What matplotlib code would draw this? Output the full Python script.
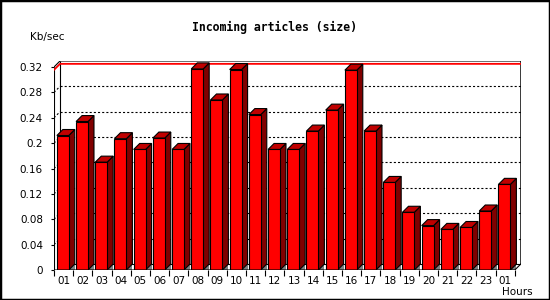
import matplotlib
matplotlib.use('Agg')
import matplotlib.pyplot as plt
from matplotlib.patches import Polygon, Rectangle

plt.rcParams['lines.scale_dashes'] = False

# hourly incoming article volume, Kb/sec
hours = ['01', '02', '03', '04', '05', '06', '07', '08', '09', '10', '11', '12',
         '13', '14', '15', '16', '17', '18', '19', '20', '21', '22', '23', '01']
kbsec = [0.212, 0.234, 0.170, 0.207, 0.190, 0.208, 0.190, 0.317, 0.268, 0.316, 0.245, 0.190,
         0.190, 0.219, 0.252, 0.315, 0.219, 0.138, 0.091, 0.070, 0.064, 0.067, 0.093, 0.135]
yticks = [0, 0.04, 0.08, 0.12, 0.16, 0.2, 0.24, 0.28, 0.32]
ymax = 0.32

n = len(kbsec)
dx = 6 / 19.2          # depth offset, in slots
dy = 6 / 634.0         # depth offset, in Kb/sec
off, w = 0.15, 0.62    # bar offset and front width inside a slot

fig = plt.figure(figsize=(5.5, 3), dpi=100)
W, H = 550, 300
ax = fig.add_axes([54 / W, 30 / H, (24 * 19.2 + 6) / W, 209 / H])
ax.set_xlim(0, n + dx)
ax.set_ylim(0, ymax + dy)
for s in ax.spines.values():
    s.set_visible(False)

lw = 0.8
# back plane grid
for v in yticks[1:-1]:
    ax.plot([dx, n + dx], [v + dy, v + dy], color='black', lw=lw, dashes=(1.5, 1.5), zorder=1)
    ax.plot([0, dx], [v, v + dy], color='black', lw=lw, dashes=(1.5, 1.5), zorder=1)

# frame
k = dict(color='black', lw=lw, zorder=2, solid_capstyle='butt')
ax.plot([0, 0], [0, ymax], **k)
ax.plot([0, dx, n + dx, n + dx], [ymax, ymax + dy, ymax + dy, dy], **k)
ax.plot([dx, dx], [dy, ymax + dy], **k)
ax.plot([dx, n + dx], [dy, dy], **k)
ax.plot([0, n, n + dx], [0, 0, dy], color='black', lw=lw, zorder=6)

# max line
m = max(kbsec)
ax.plot([0, dx, n + dx], [m - 0.0015, m + dy - 0.0015, m + dy - 0.0015], color='red', lw=1.3, zorder=2)

# bars
for i, v in enumerate(kbsec):
    x0 = i + off
    x1 = x0 + w
    ax.add_patch(Polygon([(x1, 0), (x1 + dx, 0), (x1 + dx, dy)], closed=True,
                         facecolor='#808080', edgecolor='none', zorder=3))
    ax.add_patch(Polygon([(x1, 0), (x1 + dx, dy), (x1 + dx, v + dy), (x1, v)], closed=True,
                         facecolor='#800000', edgecolor='black', lw=lw, zorder=4))
    ax.add_patch(Polygon([(x0, v), (x1, v), (x1 + dx, v + dy), (x0 + dx, v + dy)], closed=True,
                         facecolor='#c00000', edgecolor='black', lw=lw, zorder=4))
    ax.add_patch(Rectangle((x0, 0), w, v, facecolor='#ff0000', edgecolor='black', lw=lw, zorder=5))

# ticks
ax.set_yticks(yticks)
ax.set_yticklabels(['%g' % t for t in yticks])
ax.tick_params(axis='y', length=2, width=lw, pad=6, labelsize=7.5)
ax.set_xticks(range(n + 1))
ax.set_xticklabels([])
ax.set_xticks([i + 0.5 for i in range(n)], minor=True)
ax.set_xticklabels(hours, minor=True)
ax.tick_params(axis='x', which='major', length=4, width=lw)
ax.tick_params(axis='x', which='minor', length=0, pad=4.5, labelsize=7.5)

fig.text(0.5, 1 - 27 / H, 'Incoming articles (size)', ha='center', va='center',
         family='DejaVu Sans Mono', weight='bold', fontsize=8.3)
fig.text(30 / W, 1 - 37 / H, 'Kb/sec', ha='left', va='center', fontsize=7.5)
fig.text(533 / W, 1 - 292 / H, 'Hours', ha='right', va='center', fontsize=7.5)

fig.patches.append(Rectangle((0, 0), 1, 1, transform=fig.transFigure, fill=False,
                             edgecolor='black', lw=2.5, zorder=10))

fig.savefig('out.png', dpi=100)
